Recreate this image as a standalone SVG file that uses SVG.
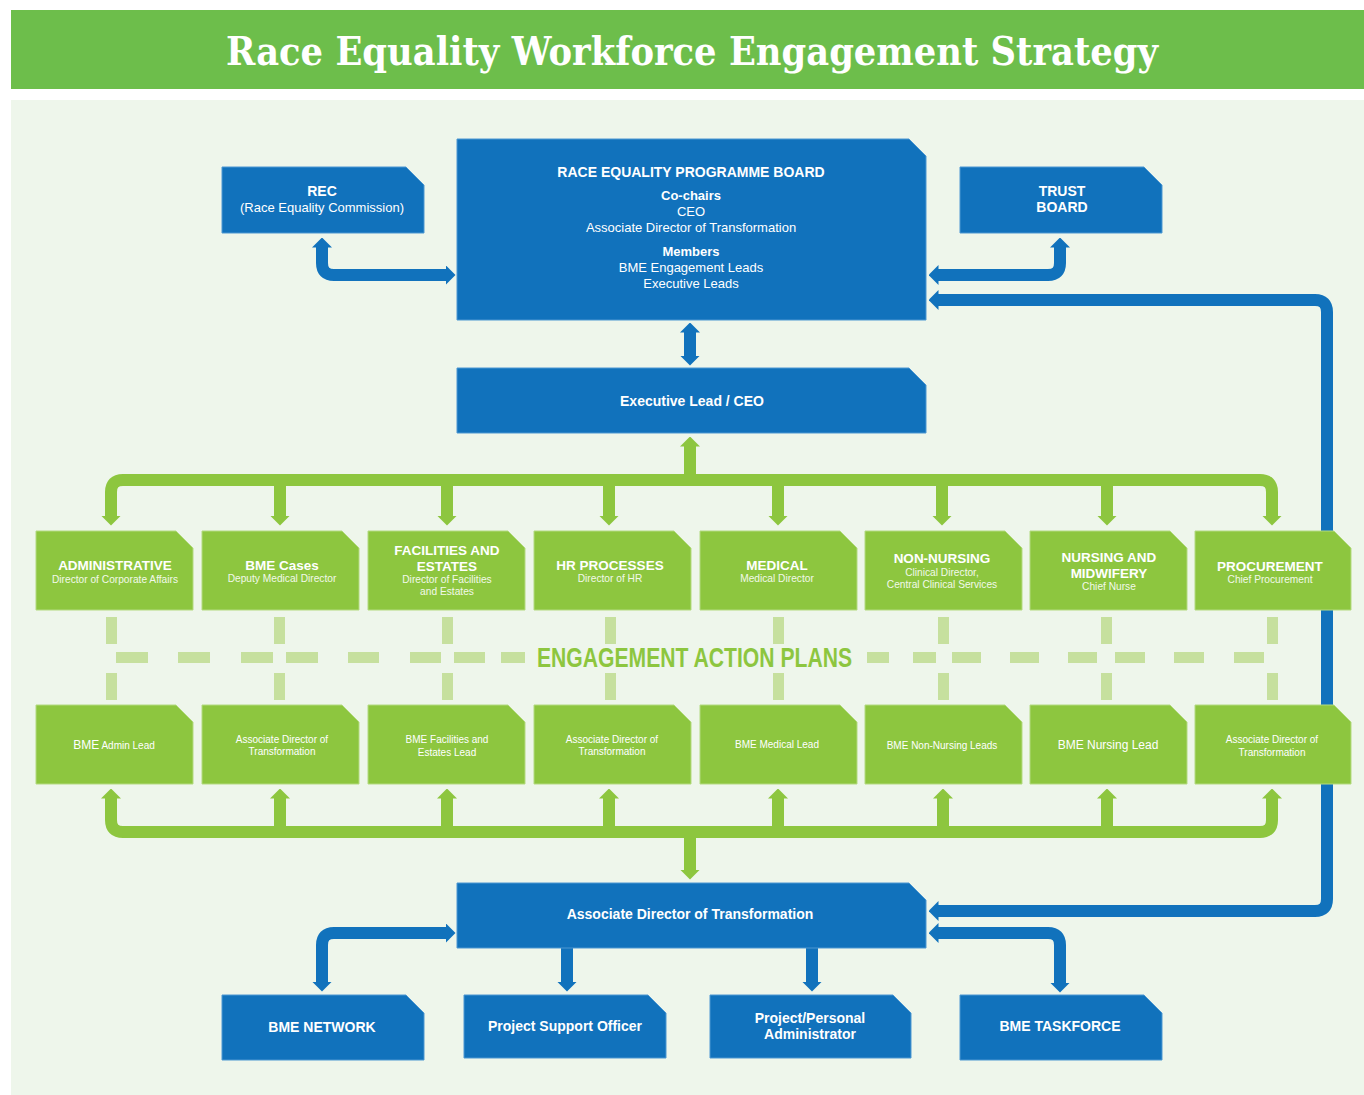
<svg xmlns="http://www.w3.org/2000/svg" width="1364" height="1095" viewBox="0 0 1364 1095">
<defs>
<style>
.bl{fill:#1172bc;stroke:#4d97d2;stroke-width:1}
.gr{fill:#8dc63f;stroke:#b3da80;stroke-width:1}
.t{font-family:"Liberation Sans",Arial,sans-serif;fill:#ffffff;text-anchor:middle}
.b{font-weight:bold}
.s{font-size:10.2px;fill:#f2f9ea}
.cb{fill:none;stroke:#1172bc;stroke-width:12}
.cg{fill:none;stroke:#8dc63f;stroke-width:12}
.dash{fill:#c6e09e}
</style>
<marker id="ab" viewBox="0 0 10 20" markerUnits="userSpaceOnUse" markerWidth="10" markerHeight="20" refX="0.5" refY="10" orient="auto-start-reverse"><path d="M0,0 L10,10 L0,20 z" fill="#1172bc"/></marker>
<marker id="ag" viewBox="0 0 10 20" markerUnits="userSpaceOnUse" markerWidth="10" markerHeight="20" refX="0.5" refY="10" orient="auto-start-reverse"><path d="M0,0 L10,10 L0,20 z" fill="#8dc63f"/></marker>
</defs>
<rect x="0" y="0" width="1364" height="1095" fill="#ffffff"/>
<rect x="11" y="10" width="1353" height="79" fill="#6dbe4b"/>
<text x="692" y="65" font-family="DejaVu Serif,serif" font-weight="bold" font-size="40" fill="#ffffff" text-anchor="middle" textLength="932" lengthAdjust="spacingAndGlyphs">Race Equality Workforce Engagement Strategy</text>
<rect x="11" y="100" width="1353" height="995" fill="#eef6eb"/>

<g id="connectors">
<path class="cb" d="M322,247 L322,263 Q322,275 334,275 L446,275" marker-start="url(#ab)" marker-end="url(#ab)"/>
<path class="cb" d="M1060,247 L1060,263 Q1060,275 1048,275 L938,275" marker-start="url(#ab)" marker-end="url(#ab)"/>
<path class="cb" d="M690,332 L690,356" marker-start="url(#ab)" marker-end="url(#ab)"/>
<path class="cb" d="M938,300 L1315,300 Q1327,300 1327,312 L1327,899 Q1327,911 1315,911 L938,911" marker-start="url(#ab)" marker-end="url(#ab)"/>
<path class="cb" d="M446,933 L334,933 Q322,933 322,945 L322,982" marker-start="url(#ab)" marker-end="url(#ab)"/>
<path class="cb" d="M567,948 L567,982" marker-end="url(#ab)"/>
<path class="cb" d="M812,948 L812,982" marker-end="url(#ab)"/>
<path class="cb" d="M938,933 L1048,933 Q1060,933 1060,945 L1060,983" marker-start="url(#ab)" marker-end="url(#ab)"/>

<path class="cg" d="M111,516 L111,492 Q111,480 123,480 L1260,480 Q1272,480 1272,492 L1272,516" marker-start="url(#ag)" marker-end="url(#ag)"/>
<path class="cg" d="M690,480 L690,446" marker-end="url(#ag)"/>
<path class="cg" d="M280,480 L280,516" marker-end="url(#ag)"/>
<path class="cg" d="M447,480 L447,516" marker-end="url(#ag)"/>
<path class="cg" d="M609,480 L609,516" marker-end="url(#ag)"/>
<path class="cg" d="M778,480 L778,516" marker-end="url(#ag)"/>
<path class="cg" d="M942,480 L942,516" marker-end="url(#ag)"/>
<path class="cg" d="M1107,480 L1107,516" marker-end="url(#ag)"/>

<path class="cg" d="M111,798 L111,820 Q111,832 123,832 L1260,832 Q1272,832 1272,820 L1272,798" marker-start="url(#ag)" marker-end="url(#ag)"/>
<path class="cg" d="M690,832 L690,870" marker-end="url(#ag)"/>
<path class="cg" d="M280,832 L280,798" marker-end="url(#ag)"/>
<path class="cg" d="M447,832 L447,798" marker-end="url(#ag)"/>
<path class="cg" d="M609,832 L609,798" marker-end="url(#ag)"/>
<path class="cg" d="M778,832 L778,798" marker-end="url(#ag)"/>
<path class="cg" d="M943,832 L943,798" marker-end="url(#ag)"/>
<path class="cg" d="M1107,832 L1107,798" marker-end="url(#ag)"/>
</g>

<g id="engagement-action-plans">
<rect class="dash" x="106" y="617" width="11" height="27"/><rect class="dash" x="106" y="673" width="11" height="27"/>
<rect class="dash" x="274" y="617" width="11" height="27"/><rect class="dash" x="274" y="673" width="11" height="27"/>
<rect class="dash" x="442" y="617" width="11" height="27"/><rect class="dash" x="442" y="673" width="11" height="27"/>
<rect class="dash" x="605" y="617" width="11" height="27"/><rect class="dash" x="605" y="673" width="11" height="27"/>
<rect class="dash" x="773" y="617" width="11" height="27"/><rect class="dash" x="773" y="673" width="11" height="27"/>
<rect class="dash" x="938" y="617" width="11" height="27"/><rect class="dash" x="938" y="673" width="11" height="27"/>
<rect class="dash" x="1101" y="617" width="11" height="27"/><rect class="dash" x="1101" y="673" width="11" height="27"/>
<rect class="dash" x="1267" y="617" width="11" height="27"/><rect class="dash" x="1267" y="673" width="11" height="27"/>
<rect class="dash" x="116" y="652" width="32" height="11"/>
<rect class="dash" x="178" y="652" width="32" height="11"/>
<rect class="dash" x="241" y="652" width="32" height="11"/>
<rect class="dash" x="286" y="652" width="32" height="11"/>
<rect class="dash" x="348" y="652" width="31" height="11"/>
<rect class="dash" x="410" y="652" width="31" height="11"/>
<rect class="dash" x="454" y="652" width="31" height="11"/>
<rect class="dash" x="501" y="652" width="24" height="11"/>
<rect class="dash" x="867" y="652" width="22" height="11"/>
<rect class="dash" x="913" y="652" width="23" height="11"/>
<rect class="dash" x="952" y="652" width="29" height="11"/>
<rect class="dash" x="1010" y="652" width="29" height="11"/>
<rect class="dash" x="1068" y="652" width="29" height="11"/>
<rect class="dash" x="1115" y="652" width="30" height="11"/>
<rect class="dash" x="1174" y="652" width="30" height="11"/>
<rect class="dash" x="1234" y="652" width="30" height="11"/>
<text x="537" y="667" font-family="Liberation Sans,Arial,sans-serif" font-weight="bold" font-size="28" fill="#8dc63f" textLength="315" lengthAdjust="spacingAndGlyphs">ENGAGEMENT ACTION PLANS</text>
</g>

<g id="rec">
<path class="bl" d="M222,167 H406 L424,185 V233 H222 Z"/>
<text class="t b" x="322" y="196" font-size="14">REC</text>
<text class="t" x="322" y="212" font-size="13">(Race Equality Commission)</text>
</g>
<g id="programme-board">
<path class="bl" d="M457,139 H909 L926,156 V320 H457 Z"/>
<text class="t b" x="691" y="177" font-size="14">RACE EQUALITY PROGRAMME BOARD</text>
<text class="t b" x="691" y="200" font-size="13">Co-chairs</text>
<text class="t" x="691" y="216" font-size="13">CEO</text>
<text class="t" x="691" y="232" font-size="13">Associate Director of Transformation</text>
<text class="t b" x="691" y="256" font-size="13">Members</text>
<text class="t" x="691" y="272" font-size="13">BME Engagement Leads</text>
<text class="t" x="691" y="288" font-size="13">Executive Leads</text>
</g>
<g id="trust-board">
<path class="bl" d="M960,167 H1144 L1162,185 V233 H960 Z"/>
<text class="t b" x="1062" y="196" font-size="14">TRUST</text>
<text class="t b" x="1062" y="212" font-size="14">BOARD</text>
</g>
<g id="executive-lead">
<path class="bl" d="M457,368 H909 L926,385 V433 H457 Z"/>
<text class="t b" x="692" y="406" font-size="14">Executive Lead / CEO</text>
</g>

<g id="dept-administrative">
<path class="gr" d="M36,531 H176 L193,548 V610 H36 Z"/>
<text class="t b" x="115" y="570" font-size="13.5">ADMINISTRATIVE</text>
<text class="t s" x="115" y="583">Director of Corporate Affairs</text>
</g>
<g id="dept-bme-cases">
<path class="gr" d="M202,531 H342 L359,548 V610 H202 Z"/>
<text class="t b" x="282" y="570" font-size="13.5">BME Cases</text>
<text class="t s" x="282" y="582">Deputy Medical Director</text>
</g>
<g id="dept-facilities">
<path class="gr" d="M368,531 H508 L525,548 V610 H368 Z"/>
<text class="t b" x="447" y="555" font-size="13.5">FACILITIES AND</text>
<text class="t b" x="447" y="571" font-size="13.5">ESTATES</text>
<text class="t s" x="447" y="583">Director of Facilities</text>
<text class="t s" x="447" y="595">and Estates</text>
</g>
<g id="dept-hr">
<path class="gr" d="M534,531 H674 L691,548 V610 H534 Z"/>
<text class="t b" x="610" y="570" font-size="13.5">HR PROCESSES</text>
<text class="t s" x="610" y="582">Director of HR</text>
</g>
<g id="dept-medical">
<path class="gr" d="M700,531 H840 L857,548 V610 H700 Z"/>
<text class="t b" x="777" y="570" font-size="13.5">MEDICAL</text>
<text class="t s" x="777" y="582">Medical Director</text>
</g>
<g id="dept-non-nursing">
<path class="gr" d="M865,531 H1005 L1022,548 V610 H865 Z"/>
<text class="t b" x="942" y="563" font-size="13.5">NON-NURSING</text>
<text class="t s" x="942" y="576">Clinical Director,</text>
<text class="t s" x="942" y="588">Central Clinical Services</text>
</g>
<g id="dept-nursing">
<path class="gr" d="M1030,531 H1170 L1187,548 V610 H1030 Z"/>
<text class="t b" x="1109" y="562" font-size="13.5">NURSING AND</text>
<text class="t b" x="1109" y="578" font-size="13.5">MIDWIFERY</text>
<text class="t s" x="1109" y="590">Chief Nurse</text>
</g>
<g id="dept-procurement">
<path class="gr" d="M1195,531 H1334 L1351,548 V610 H1195 Z"/>
<text class="t b" x="1270" y="571" font-size="13.5">PROCUREMENT</text>
<text class="t s" x="1270" y="583">Chief Procurement</text>
</g>

<g id="lead-admin">
<path class="gr" d="M36,705 H176 L193,722 V784 H36 Z"/>
<text class="t" x="114" y="749" font-size="10"><tspan font-size="12">BME</tspan> Admin Lead</text>
</g>
<g id="lead-bme-cases">
<path class="gr" d="M202,705 H342 L359,722 V784 H202 Z"/>
<text class="t" x="282" y="743" font-size="10">Associate Director of</text>
<text class="t" x="282" y="755" font-size="10">Transformation</text>
</g>
<g id="lead-facilities">
<path class="gr" d="M368,705 H508 L525,722 V784 H368 Z"/>
<text class="t" x="447" y="743" font-size="10">BME Facilities and</text>
<text class="t" x="447" y="756" font-size="10">Estates Lead</text>
</g>
<g id="lead-hr">
<path class="gr" d="M534,705 H674 L691,722 V784 H534 Z"/>
<text class="t" x="612" y="743" font-size="10">Associate Director of</text>
<text class="t" x="612" y="755" font-size="10">Transformation</text>
</g>
<g id="lead-medical">
<path class="gr" d="M700,705 H840 L857,722 V784 H700 Z"/>
<text class="t" x="777" y="748" font-size="10">BME Medical Lead</text>
</g>
<g id="lead-non-nursing">
<path class="gr" d="M865,705 H1005 L1022,722 V784 H865 Z"/>
<text class="t" x="942" y="749" font-size="10">BME Non-Nursing Leads</text>
</g>
<g id="lead-nursing">
<path class="gr" d="M1030,705 H1170 L1187,722 V784 H1030 Z"/>
<text class="t" x="1108" y="749" font-size="12">BME Nursing Lead</text>
</g>
<g id="lead-procurement">
<path class="gr" d="M1195,705 H1334 L1351,722 V784 H1195 Z"/>
<text class="t" x="1272" y="743" font-size="10">Associate Director of</text>
<text class="t" x="1272" y="756" font-size="10">Transformation</text>
</g>

<g id="associate-director">
<path class="bl" d="M457,883 H909 L926,900 V948 H457 Z"/>
<text class="t b" x="690" y="919" font-size="14">Associate Director of Transformation</text>
</g>
<g id="bme-network">
<path class="bl" d="M222,995 H406 L424,1013 V1060 H222 Z"/>
<text class="t b" x="322" y="1032" font-size="14">BME NETWORK</text>
</g>
<g id="project-support-officer">
<path class="bl" d="M464,995 H648 L666,1013 V1058 H464 Z"/>
<text class="t b" x="565" y="1031" font-size="14">Project Support Officer</text>
</g>
<g id="project-personal-administrator">
<path class="bl" d="M710,995 H893 L911,1013 V1058 H710 Z"/>
<text class="t b" x="810" y="1023" font-size="14">Project/Personal</text>
<text class="t b" x="810" y="1039" font-size="14">Administrator</text>
</g>
<g id="bme-taskforce">
<path class="bl" d="M960,995 H1144 L1162,1013 V1060 H960 Z"/>
<text class="t b" x="1060" y="1031" font-size="14">BME TASKFORCE</text>
</g>
</svg>
